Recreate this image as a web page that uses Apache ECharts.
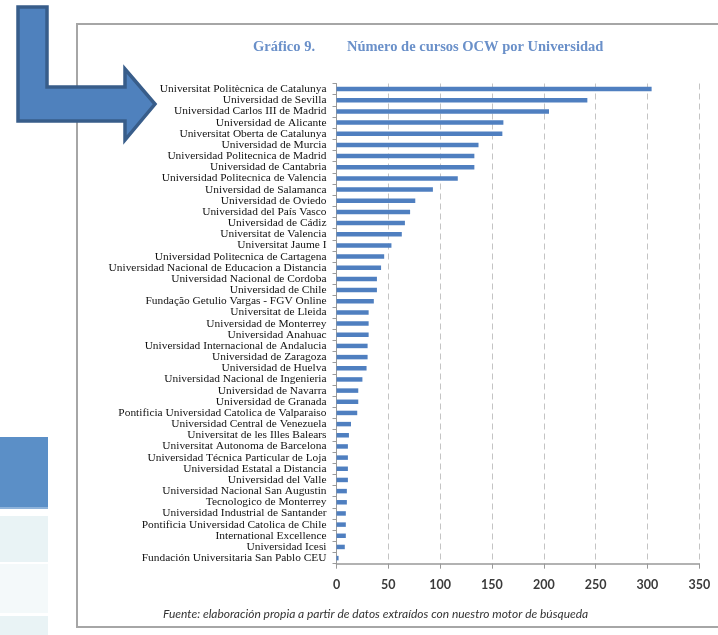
<!DOCTYPE html>
<html>
<head>
<meta charset="utf-8">
<script src="https://cdn.jsdelivr.net/npm/echarts@6/dist/echarts.min.js"></script>
<style>html,body{margin:0;padding:0;background:#fff;}#chart{width:718px;height:635px;}</style>
</head>
<body>
<div id="chart"></div>
<script>
const universities = [
  "Universitat Politècnica de Catalunya",
  "Universidad de Sevilla",
  "Universidad Carlos III de Madrid",
  "Universidad de Alicante",
  "Universitat Oberta de Catalunya",
  "Universidad de Murcia",
  "Universidad Politecnica de Madrid",
  "Universidad de Cantabria",
  "Universidad Politecnica de Valencia",
  "Universidad de Salamanca",
  "Universidad de Oviedo",
  "Universidad del País Vasco",
  "Universidad de Cádiz",
  "Universitat de Valencia",
  "Universitat Jaume I",
  "Universidad Politecnica de Cartagena",
  "Universidad Nacional de Educacion a Distancia",
  "Universidad Nacional de Cordoba",
  "Universidad de Chile",
  "Fundação Getulio Vargas - FGV Online",
  "Universitat de Lleida",
  "Universidad de Monterrey",
  "Universidad Anahuac",
  "Universidad Internacional de Andalucia",
  "Universidad de Zaragoza",
  "Universidad de Huelva",
  "Universidad Nacional de Ingenieria",
  "Universidad de Navarra",
  "Universidad de Granada",
  "Pontificia Universidad Catolica de Valparaiso",
  "Universidad Central de Venezuela",
  "Universitat de les Illes Balears",
  "Universitat Autonoma de Barcelona",
  "Universidad Técnica Particular de Loja",
  "Universidad Estatal a Distancia",
  "Universidad del Valle",
  "Universidad Nacional San Augustin",
  "Tecnologico de Monterrey",
  "Universidad Industrial de Santander",
  "Pontificia Universidad Catolica de Chile",
  "International Excellence",
  "Universidad Icesi",
  "Fundación Universitaria San Pablo CEU"
];
const courses = [304, 242, 205, 161, 160, 137, 133, 133, 117, 93, 76, 71, 66, 63, 53, 46, 43, 39, 39, 36,
  31, 31, 31, 30, 30, 29, 25, 21, 21, 20, 14, 12, 11, 11, 11, 11, 10, 10, 9, 9, 9, 8, 2];
const xTicks = [0, 50, 100, 150, 200, 250, 300, 350];
const titleNumber = "Gráfico 9.";
const titleText = "Número de cursos OCW por Universidad";
const sourceText = "Fuente: elaboración propia a partir de datos extraídos con nuestro motor de búsqueda";

const chart = echarts.init(document.getElementById('chart'), null, {renderer: 'canvas'});
chart.setOption({
  animation: false,
  backgroundColor: '#ffffff',
  title: [
    {text: titleNumber, left: 248, top: 35, padding: 5,
     textStyle: {fontFamily: 'Liberation Serif', fontWeight: 'bold', fontSize: 14.5, color: '#6a90c9'}},
    {text: titleText, left: 342, top: 35, padding: 5,
     textStyle: {fontFamily: 'Liberation Serif', fontWeight: 'bold', fontSize: 14.5, color: '#6a90c9'}}
  ],
  graphic: [
    {type: 'rect', z: 0, shape: {x: 77, y: 24, width: 680, height: 603},
     style: {fill: 'none', stroke: '#a6a6a6', lineWidth: 2}},
    {type: 'rect', z: 0, shape: {x: 0, y: 437, width: 48, height: 71}, style: {fill: '#5b8fc7'}},
    {type: 'rect', z: 0, shape: {x: 0, y: 507, width: 48, height: 2}, style: {fill: '#8fb3da'}},
    {type: 'rect', z: 0, shape: {x: 0, y: 516, width: 48, height: 46}, style: {fill: '#e9f3f5'}},
    {type: 'rect', z: 0, shape: {x: 0, y: 564, width: 48, height: 49}, style: {fill: '#f4f9fa'}},
    {type: 'rect', z: 0, shape: {x: 0, y: 616, width: 48, height: 19}, style: {fill: '#e9f3f5'}},
    {type: 'polygon', z: 100,
     shape: {points: [[18,7],[47,7],[47,87],[125,87],[125,69],[155,104],[125,140],[125,121],[18,121]]},
     style: {fill: '#4f81bd', stroke: '#385d8a', lineWidth: 3.5, lineJoin: 'miter'}},
    {type: 'text', z: 10, left: 163, top: 608,
     style: {text: sourceText, font: 'italic 12px Lato', fill: '#333333'}}
  ],
  grid: {left: 336.5, right: 18.7, top: 83.5, bottom: 71.3, containLabel: false},
  xAxis: {
    type: 'value', min: 0, max: 350, interval: 50,
    axisLine: {show: true, lineStyle: {color: '#999999', width: 1.5}},
    axisTick: {show: true, length: 5, lineStyle: {color: '#999999'}},
    axisLabel: {margin: 15, fontFamily: 'Lato', fontWeight: 'bold', fontSize: 12.5, color: '#3a3a3a',
      formatter: v => xTicks.includes(v) ? String(v) : ''},
    splitLine: {show: true, lineStyle: {color: '#c4c4c4', type: [6, 4], width: 1}}
  },
  yAxis: {
    type: 'category', data: universities, inverse: true,
    axisLine: {show: true, lineStyle: {color: '#9a9a9a', width: 1}},
    axisTick: {show: true, length: 4, lineStyle: {color: '#9a9a9a'}},
    axisLabel: {margin: 10, fontFamily: 'Liberation Serif', fontSize: 11.4, color: '#111111', interval: 0},
    splitLine: {show: false}
  },
  series: [{
    type: 'bar', data: courses, barWidth: 4.5,
    itemStyle: {color: '#4f7fc0'}
  }]
});
</script>
</body>
</html>
